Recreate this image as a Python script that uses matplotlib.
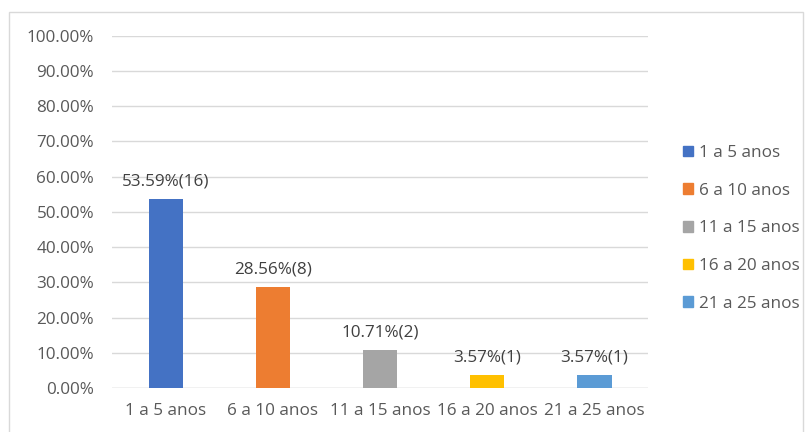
import matplotlib.pyplot as plt
from matplotlib.patches import Rectangle

categories = ['1 a 5 anos', '6 a 10 anos', '11 a 15 anos', '16 a 20 anos', '21 a 25 anos']
percentages = [53.59, 28.56, 10.71, 3.57, 3.57]
counts = [16, 8, 2, 1, 1]
colors = ['#4472C4', '#ED7D31', '#A5A5A5', '#FFC000', '#5B9BD5']
yticks = [0, 10, 20, 30, 40, 50, 60, 70, 80, 90, 100]

plt.rcParams['font.family'] = ['Open Sans', 'DejaVu Sans']
text_color = '#595959'
fs = 12.3

fig = plt.figure(figsize=(8.07, 4.32), dpi=100)
ax = fig.add_axes([0.139, 0.102, 0.664, 0.815])

x = range(len(categories))
ax.bar(x, percentages, width=0.32, color=colors, zorder=3)

for xi, p, c in zip(x, percentages, counts):
    ax.annotate(f'{p:.2f}%({c})', (xi, p), xytext=(0, 7), textcoords='offset points',
                ha='center', va='bottom', fontsize=fs, color='#404040')

ax.set_xlim(-0.5, len(categories) - 0.5)
ax.set_ylim(0, 100)
ax.set_yticks(yticks)
ax.set_yticklabels([f'{t:.2f}%' for t in yticks])
ax.set_xticks(list(x))
ax.set_xticklabels(categories)
ax.tick_params(axis='both', length=0, labelsize=fs, labelcolor=text_color)
ax.tick_params(axis='y', pad=13)
ax.tick_params(axis='x', pad=11)
ax.grid(axis='y', color='#D9D9D9', linewidth=1, zorder=0)
for s in ax.spines.values():
    s.set_visible(False)
ax.axhline(0, color='#D9D9D9', linewidth=1, zorder=2)

handles = [Rectangle((0, 0), 1, 1, color=c) for c in colors]
fig.legend(handles, categories, loc='upper left', bbox_to_anchor=(0.827, 0.70),
           frameon=False, fontsize=fs, handlelength=0.6, handleheight=0.6,
           handletextpad=0.35, labelspacing=1.27, labelcolor=text_color)

fig.patches.append(Rectangle((0.011, -0.05), 0.984, 1.022, transform=fig.transFigure,
                             fill=False, edgecolor='#D9D9D9', linewidth=1))

fig.savefig('out.png', dpi=100)
